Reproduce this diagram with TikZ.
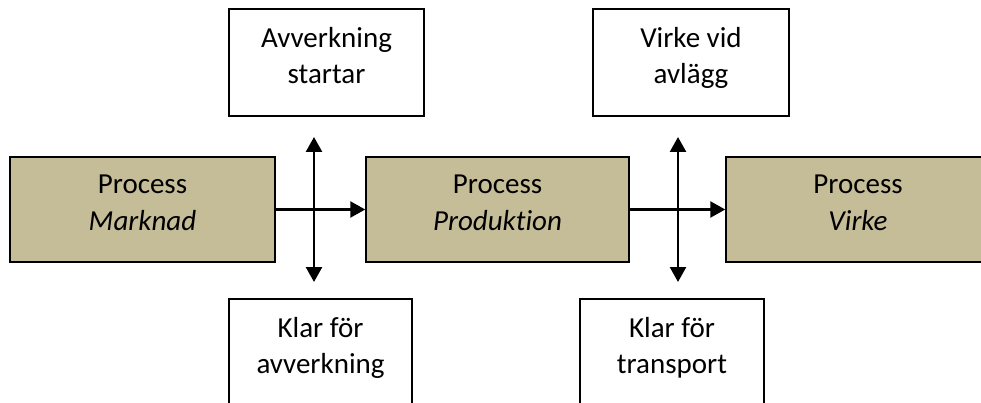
\documentclass[tikz,border=0pt]{standalone}
\usepackage{fontspec}
\setmainfont[Ligatures=NoCommon]{Carlito}
\usetikzlibrary{arrows.meta}
\definecolor{proctan}{HTML}{C4BD97}
\newcommand{\lstrut}{\rule[-15pt]{0pt}{35pt}}

\begin{document}
\begin{tikzpicture}[x=1pt, y=-1pt,
    box/.style = {draw, line width=1.5pt, rectangle, align=center, inner sep=0pt,
                  minimum height=107pt, font=\fontsize{29}{36}\selectfont},
    proc/.style = {box, fill=proctan, minimum height=105pt},
    flow/.style = {line width=2.5pt, -{Triangle[width=16pt,length=15pt]}},
    both/.style = {line width=2.5pt, {Triangle[width=16pt,length=15pt]}-{Triangle[width=16pt,length=15pt]}}]

        \useasboundingbox (0,0) rectangle (981,403);
        \clip (0,0) rectangle (981,403);

        \node[proc, minimum width=265pt, xshift=142.5pt, yshift=-209.5pt] (marknad) {\lstrut Process\\\lstrut\textit{Marknad}};
        \node[proc, minimum width=263pt, xshift=497.5pt, yshift=-209.5pt] (produktion) {\lstrut Process\\\lstrut\textit{Produktion}};
        \node[proc, minimum width=264pt, xshift=858pt, yshift=-209.5pt] (virke) {\lstrut Process\\\lstrut\textit{Virke}};

        \node[box, minimum width=195pt, xshift=326.5pt, yshift=-62.5pt] (startar) {\lstrut Avverkning\\\lstrut startar};
        \node[box, minimum width=196pt, xshift=691pt, yshift=-62.5pt] (avlagg) {\lstrut Virke vid\\\lstrut avlägg};
        \node[box, minimum width=183pt, xshift=320.5pt, yshift=-352.5pt] (klaravv) {\lstrut Klar för\\\lstrut avverkning};
        \node[box, minimum width=184pt, xshift=672pt, yshift=-352.5pt] (klartrans) {\lstrut Klar för\\\lstrut transport};

        \coordinate (up1) at (314,137);
        \coordinate (dn1) at (314,282);
        \coordinate (up2) at (678,137);
        \coordinate (dn2) at (678,282);

        \draw[flow] (marknad) -- (produktion);
        \draw[flow] (produktion) -- (virke);
        \draw[both] (up1) -- (dn1);
        \draw[both] (up2) -- (dn2);

\end{tikzpicture}
\end{document}
